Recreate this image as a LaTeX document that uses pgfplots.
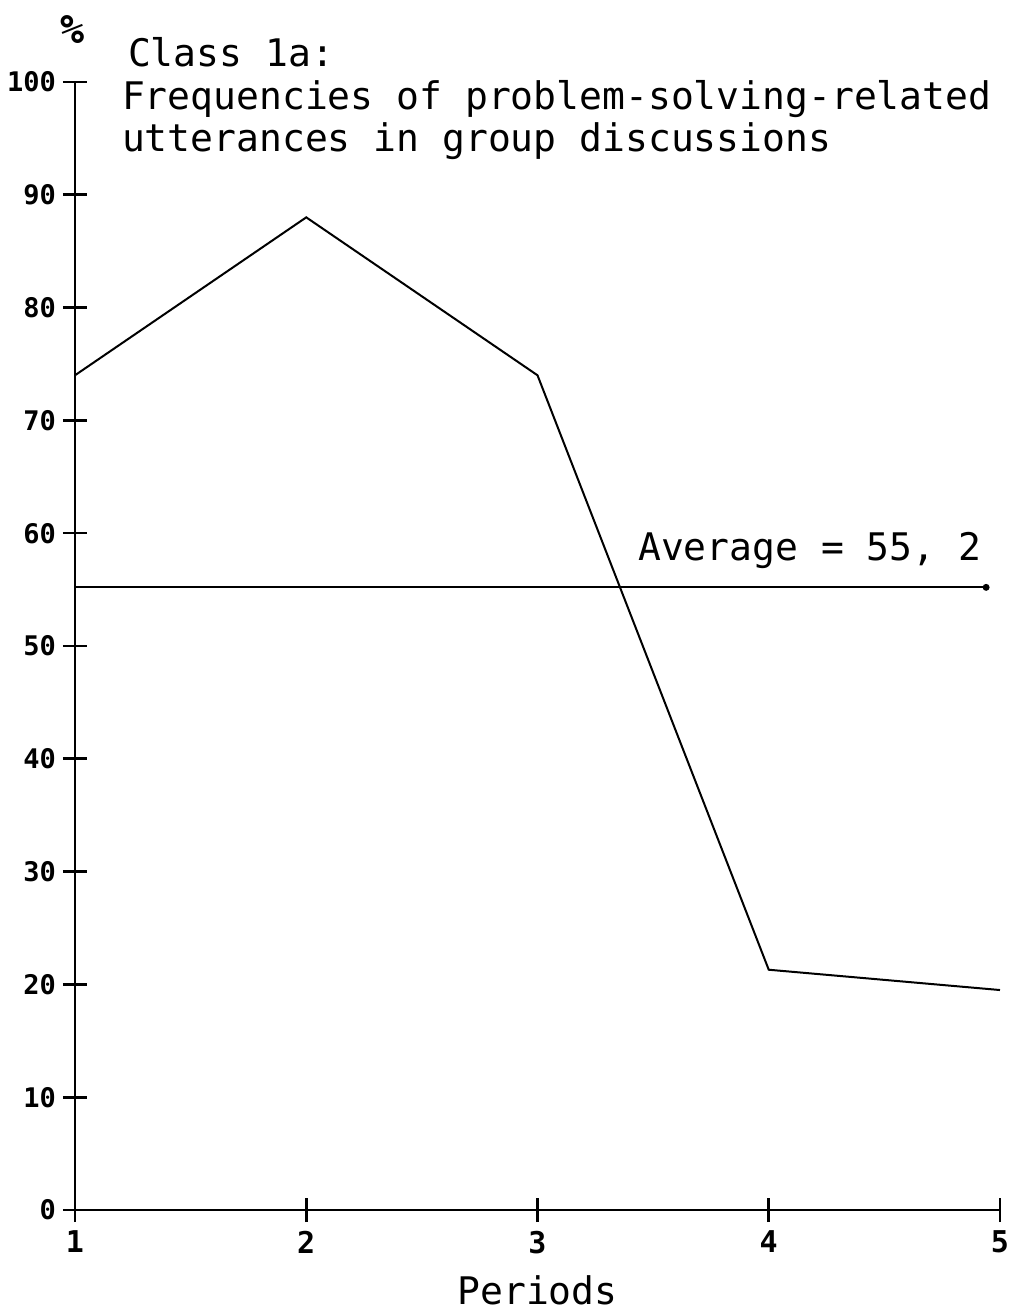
\documentclass[border=0pt]{standalone}
\usepackage{pgfplots}
\pgfplotsset{compat=1.18}
\usepackage{fontspec}
\setmainfont{DejaVu Sans Mono}
\begin{document}
\begin{tikzpicture}
\begin{axis}[
  scale only axis,
  width=462.5pt, height=564pt,
  xmin=1, xmax=5, ymin=0, ymax=100,
  axis x line=bottom, axis y line=left,
  axis line style={line width=1.3pt, -},
  xtick={1,2,3,4,5},
  ytick={0,10,...,100},
  tick align=center,
  major tick length=12pt,
  tick style={line width=1.3pt, black},
  /pgf/number format/assume math mode=true,
  ticklabel style={font=\bfseries\fontsize{13.5}{13.5}\selectfont},
  xticklabel style={font=\bfseries\fontsize{15}{15}\selectfont, yshift=-1pt},
  xlabel={Periods},
  xlabel style={font=\fontsize{19}{19}\selectfont, yshift=-4pt},
  clip=false,
]
\addplot[black, line width=1pt] coordinates {(1,74) (2,88) (3,74) (4,21.3) (5,19.5)};
\addplot[black, line width=1pt, mark=*, mark size=1.2pt, mark indices={2}] coordinates {(1,55.2) (4.94,55.2)};
\node[anchor=base east, font=\fontsize{19}{19}\selectfont] at (axis cs:4.95,57.6) {Average = 55, 2};
\node[anchor=base west, font=\fontsize{19}{19}\selectfont] at (rel axis cs:0,1) [xshift=23pt, yshift=7.5pt] {Class 1a:};
\node[anchor=base west, font=\fontsize{19}{19}\selectfont] at (rel axis cs:0,1) [xshift=20pt, yshift=-14pt] {Frequencies of problem-solving-related};
\node[anchor=base west, font=\fontsize{19}{19}\selectfont] at (rel axis cs:0,1) [xshift=20pt, yshift=-35pt] {utterances in group discussions};
\node[font=\bfseries\fontsize{20}{20}\selectfont] at (rel axis cs:0,1) [xshift=-1pt, yshift=26pt] {\%};
\end{axis}
\pgfresetboundingbox
\path (current axis.south west) ++(-37.5pt,-51.5pt) rectangle ([shift={(5.5pt,41pt)}]current axis.north east);
\end{tikzpicture}
\end{document}
